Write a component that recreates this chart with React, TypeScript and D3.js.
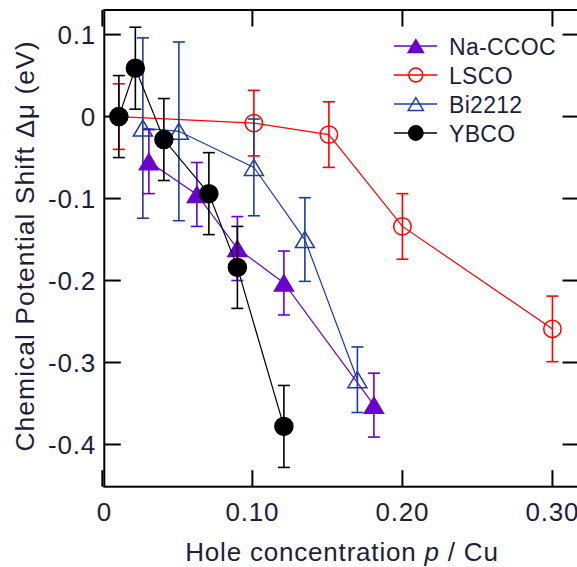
import React from "react";
import { scaleLinear, line } from "d3";

// hole concentration p / Cu and chemical potential shift (eV), with error bars
const pNa = [0.031, 0.063, 0.09, 0.121, 0.181];
const muNa = [-0.055, -0.095, -0.161, -0.203, -0.352];
const errNa = [0.039, 0.039, 0.039, 0.039, 0.039];

const pLsco = [0.011, 0.101, 0.151, 0.2, 0.3];
const muLsco = [0, -0.008, -0.022, -0.134, -0.259];
const errLsco = [0.04, 0.04, 0.04, 0.04, 0.04];

const pBi = [0.027, 0.051, 0.101, 0.135, 0.17];
const muBi = [-0.014, -0.018, -0.062, -0.15, -0.321];
const errBi = [0.11, 0.109, 0.059, 0.051, 0.04];

const pYbco = [0.011, 0.022, 0.041, 0.071, 0.09, 0.121];
const muYbco = [0, 0.059, -0.028, -0.094, -0.184, -0.378];
const errYbco = [0.05, 0.05, 0.05, 0.05, 0.05, 0.05];

const xTicks = [0, 0.1, 0.2, 0.3];
const xTickLabels = ["0", "0.10", "0.20", "0.30"];
const yTicks = [0.1, 0, -0.1, -0.2, -0.3, -0.4];
const yTickLabels = ["0.1", "0", "-0.1", "-0.2", "-0.3", "-0.4"];

const series = [
  { name: "LSCO", p: pLsco, mu: muLsco, err: errLsco, color: "#ff0000", marker: "circle", filled: false },
  { name: "Bi2212", p: pBi, mu: muBi, err: errBi, color: "#1c3ca6", marker: "triangle", filled: false },
  { name: "Na-CCOC", p: pNa, mu: muNa, err: errNa, color: "#6a00d0", marker: "triangle", filled: true },
  { name: "YBCO", p: pYbco, mu: muYbco, err: errYbco, color: "#000000", marker: "circle", filled: true },
];
const legendOrder = ["Na-CCOC", "LSCO", "Bi2212", "YBCO"];

const W = 577;
const H = 567;
const textColor = "#1e1e3a";

function Marker({ cx, cy, kind, color, filled, s = 1 }) {
  if (kind === "circle") {
    return (
      <circle cx={cx} cy={cy} r={(filled ? 9 : 8.7) * s}
        fill={filled ? color : "none"} stroke={color} strokeWidth={1.5} />
    );
  }
  const hw = 9.5 * s, hh = 8 * s;
  const d = `M${cx},${cy - hh}L${cx + hw},${cy + hh}L${cx - hw},${cy + hh}Z`;
  return <path d={d} fill={filled ? color : "none"} stroke={color} strokeWidth={1.5} strokeLinejoin="miter" />;
}

export default function App() {
  const x = scaleLinear().domain([0.0013, 0.3177]).range([104.3, 579]);
  const y = scaleLinear().domain([0.13, -0.4515]).range([10, 486.7]);
  const [x0, x1] = x.range();
  const [y0, y1] = y.range();
  const tick = 16.5;

  const pathGen = line<[number, number]>().x(d => x(d[0])).y(d => y(d[1]));

  return (
    <svg width={W} height={H} style={{ position: "absolute", left: 0, top: 0, background: "#fff" }}
      fontFamily="'Liberation Sans', Arial, sans-serif">
      {/* frame */}
      <rect x={x0} y={y0} width={x1 - x0} height={y1 - y0} fill="none" stroke="#000" strokeWidth={2} />
      {xTicks.map((t, i) => (
        <g key={"xt" + i}>
          <line x1={x(t)} x2={x(t)} y1={y1} y2={y1 - tick} stroke="#000" strokeWidth={2} />
          <line x1={x(t)} x2={x(t)} y1={y0} y2={y0 + tick} stroke="#000" strokeWidth={2} />
          <text x={Math.max(x(t), x0)} y={521} textAnchor="middle" fontSize={26} letterSpacing={0.8} fill={textColor}>
            {xTickLabels[i]}
          </text>
        </g>
      ))}
      {yTicks.map((t, i) => (
        <g key={"yt" + i}>
          <line x1={x0} x2={x0 + tick} y1={y(t)} y2={y(t)} stroke="#000" strokeWidth={2} />
          <line x1={x1} x2={x1 - tick} y1={y(t)} y2={y(t)} stroke="#000" strokeWidth={2} />
          <text x={96} y={y(t) + 9.5} textAnchor="end" fontSize={26} letterSpacing={0.8} fill={textColor}>
            {yTickLabels[i]}
          </text>
        </g>
      ))}
      <text x={342} y={561} textAnchor="middle" fontSize={26} letterSpacing={0.8} fill={textColor}>
        Hole concentration <tspan fontStyle="italic">p</tspan> / Cu
      </text>
      <text transform="translate(34,246) rotate(-90)" textAnchor="middle" fontSize={26.5} letterSpacing={1} fill={textColor}>
        Chemical Potential Shift Δμ (eV)
      </text>

      {series.map(s => {
        const pts = s.p.map((p, i) => [p, s.mu[i]] as [number, number]);
        return (
          <g key={s.name}>
            <path d={pathGen(pts) || ""} fill="none" stroke={s.color} strokeWidth={1.2} />
            {pts.map((d, i) => {
              const cx = x(d[0]);
              const top = y(d[1] + s.err[i]);
              const bot = y(d[1] - s.err[i]);
              return (
                <g key={i} stroke={s.color} strokeWidth={1.6}>
                  <line x1={cx} x2={cx} y1={top} y2={bot} />
                  <line x1={cx - 6} x2={cx + 6} y1={top} y2={top} />
                  <line x1={cx - 6} x2={cx + 6} y1={bot} y2={bot} />
                </g>
              );
            })}
            {pts.map((d, i) => (
              <Marker key={"m" + i} cx={x(d[0])} cy={y(d[1])} kind={s.marker} color={s.color} filled={s.filled} />
            ))}
          </g>
        );
      })}

      {/* legend */}
      {legendOrder.map((name, i) => {
        const s = series.find(d => d.name === name)!;
        const ly = 46 + i * 29;
        return (
          <g key={"lg" + name}>
            <line x1={394} x2={437} y1={ly} y2={ly} stroke={s.color} strokeWidth={1.5} />
            <Marker cx={415.8} cy={ly} kind={s.marker} color={s.color} filled={s.filled} s={0.8} />
            <text x={449} y={ly + 8.5} fontSize={23} letterSpacing={0.3} fill={textColor}>{name}</text>
          </g>
        );
      })}
    </svg>
  );
}
